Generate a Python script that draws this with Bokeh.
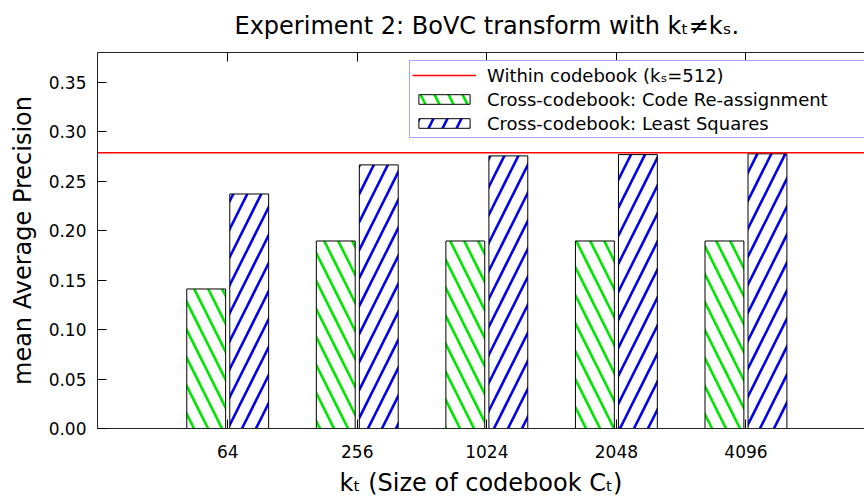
from bokeh.plotting import figure
from bokeh.models import (Range1d, FixedTicker, LinearAxis, Legend, LegendItem,
                          PrintfTickFormatter, ColumnDataSource)
from bokeh.transform import dodge
from bokeh.embed import file_html
from bokeh.resources import INLINE

# ---- data ----
categories = ["64", "256", "1024", "2048", "4096"]
code_reassign = [0.141, 0.1895, 0.1895, 0.1895, 0.1895]
least_squares = [0.237, 0.2664, 0.2755, 0.2768, 0.2776]
within_codebook = 0.2786
y_ticks = [0.00, 0.05, 0.10, 0.15, 0.20, 0.25, 0.30, 0.35]

title_text = "Experiment 2: BoVC transform with k\u209c\u2260k\u209b."
xlabel_text = "k\u209c (Size of codebook C\u209c)"
ylabel_text = "mean Average Precision"
legend_labels = ["Within codebook (k\u209b=512)",
                 "Cross-codebook: Code Re-assignment",
                 "Cross-codebook: Least Squares"]

FONT = "DejaVu Sans"
idx = list(range(len(categories)))

xr = Range1d(-1.005, 4.915)
p = figure(width=864, height=503, output_backend="svg", toolbar_location=None,
           x_range=xr, y_range=Range1d(0, 0.38),
           min_border_left=97, min_border_right=0, min_border_top=52, min_border_bottom=75)
p.outline_line_color = None
p.xgrid.grid_line_color = None
p.ygrid.grid_line_color = None
p.background_fill_color = "white"
p.border_fill_color = "white"

# title
p.title.text = title_text
p.title.align = "left"
p.title.offset = 137
p.title.vertical_align = "top"
p.title.standoff = 22
p.title.text_font = FONT
p.title.text_font_size = "24px"
p.title.text_font_style = "normal"
p.title.text_color = "black"

src = ColumnDataSource(dict(x=idx, code=code_reassign, ls=least_squares))

g = p.vbar(x=dodge("x", -0.166, range=p.x_range), top="code", width=0.30, source=src,
           fill_color="white", line_color="black", line_width=1,
           hatch_pattern="left_diagonal_line", hatch_color="#00e600",
           hatch_scale=28, hatch_weight=2.6)
b = p.vbar(x=dodge("x", 0.166, range=p.x_range), top="ls", width=0.30, source=src,
           fill_color="white", line_color="black", line_width=1,
           hatch_pattern="right_diagonal_line", hatch_color="#0000ee",
           hatch_scale=28, hatch_weight=2.6)

# reference line spanning the whole x range
red = p.line(x=[xr.start, xr.end], y=[within_codebook, within_codebook],
             line_color="#ff0000", line_width=1.5)

# bottom axis
xa = p.xaxis[0]
xa.ticker = FixedTicker(ticks=idx)
xa.major_label_overrides = {i: c for i, c in zip(idx, categories)}
xa.major_tick_in = 9
xa.major_tick_out = 0
xa.minor_tick_line_color = None
xa.major_label_text_font = FONT
xa.major_label_text_font_size = "17px"
xa.major_label_text_color = "black"
xa.major_label_standoff = 16
xa.axis_line_color = "#222222"
xa.axis_label = xlabel_text
xa.axis_label_text_font = FONT
xa.axis_label_text_font_size = "24px"
xa.axis_label_text_font_style = "normal"
xa.axis_label_text_color = "black"
xa.axis_label_standoff = 8

# top mirror axis (border + ticks)
ta = LinearAxis(ticker=FixedTicker(ticks=idx), major_label_overrides={i: "" for i in idx},
                major_label_text_font_size="0px", major_label_standoff=0,
                major_tick_in=9, major_tick_out=0, minor_tick_line_color=None,
                axis_line_color="#222222")
p.add_layout(ta, "above")

# left axis
ya = p.yaxis[0]
ya.ticker = FixedTicker(ticks=y_ticks)
ya.formatter = PrintfTickFormatter(format="%.2f")
ya.major_tick_in = 9
ya.major_tick_out = 0
ya.minor_tick_line_color = None
ya.major_label_text_font = FONT
ya.major_label_text_font_size = "17px"
ya.major_label_text_color = "black"
ya.major_label_standoff = 11
ya.axis_line_color = "#222222"
ya.axis_label = ylabel_text
ya.axis_label_text_font = FONT
ya.axis_label_text_font_size = "24px"
ya.axis_label_text_font_style = "normal"
ya.axis_label_text_color = "black"
ya.axis_label_standoff = 9

legend = Legend(items=[LegendItem(label=legend_labels[0], renderers=[red]),
                       LegendItem(label=legend_labels[1], renderers=[g]),
                       LegendItem(label=legend_labels[2], renderers=[b])],
                location=(312, 290), orientation="vertical", padding=2, spacing=0,
                label_height=24, glyph_height=12, glyph_width=64, label_standoff=11,
                label_width=375, border_line_color="#4b4bff", border_line_width=1.5,
                background_fill_color="white", background_fill_alpha=1,
                label_text_font=FONT, label_text_font_size="18px",
                label_text_color="black", margin=0)
p.add_layout(legend)

open("out.html", "w").write(file_html(p, INLINE))
